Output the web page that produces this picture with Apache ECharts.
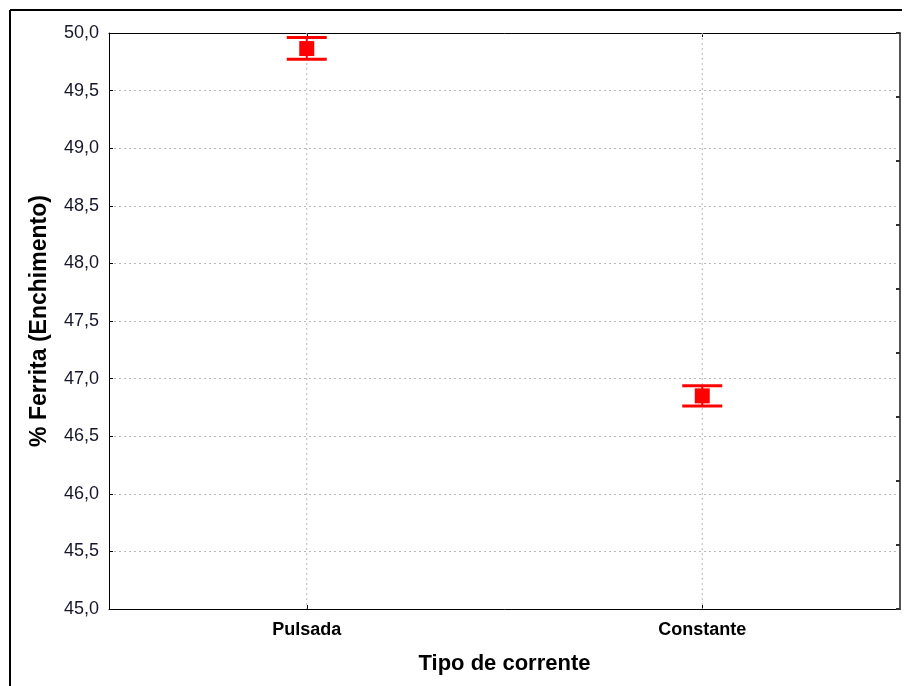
<!DOCTYPE html>
<html>
<head>
<meta charset="utf-8">
<script src="https://cdn.jsdelivr.net/npm/echarts@6/dist/echarts.min.js"></script>
<style>
  html, body { margin: 0; padding: 0; background: #fff; }
  #chart { width: 907px; height: 686px; }
</style>
</head>
<body>
<div id="chart"></div>
<script>
// Current type categories
const categories = ['Pulsada', 'Constante'];
// Mean ferrite percentage and the error-bar limits
const means = [49.865, 46.85];
const lowerLimits = [49.772, 46.762];
const upperLimits = [49.96, 46.938];

const barData = categories.map((c, i) => [i, means[i], lowerLimits[i], upperLimits[i]]);
const RED = '#ff0000';
const FONT = 'Liberation Sans, Arial, sans-serif';

function renderErrorBar(params, api) {
  const idx = api.value(0);
  const mid = api.coord([idx, api.value(1)]);
  const lo = api.coord([idx, api.value(2)]);
  const hi = api.coord([idx, api.value(3)]);
  const capHalf = 20;
  const sq = 15;
  return {
    type: 'group',
    children: [
      { type: 'line', shape: { x1: mid[0], y1: hi[1], x2: mid[0], y2: lo[1] },
        style: { stroke: RED, lineWidth: 2 } },
      { type: 'line', shape: { x1: mid[0] - capHalf, y1: hi[1], x2: mid[0] + capHalf, y2: hi[1] },
        style: { stroke: RED, lineWidth: 3 } },
      { type: 'line', shape: { x1: mid[0] - capHalf, y1: lo[1], x2: mid[0] + capHalf, y2: lo[1] },
        style: { stroke: RED, lineWidth: 3 } },
      { type: 'rect', shape: { x: mid[0] - sq / 2, y: mid[1] - sq / 2, width: sq, height: sq },
        style: { fill: RED } }
    ]
  };
}

const dotted = { show: true, lineStyle: { color: '#b8b8b8', type: [2, 3], width: 1 } };

const chart = echarts.init(document.getElementById('chart'), null, { renderer: 'canvas' });
chart.setOption({
  animation: false,
  backgroundColor: '#fff',
  grid: { left: 109, top: 33, right: 7, bottom: 77, containLabel: false },
  xAxis: [
    {
      type: 'category', data: categories, position: 'bottom',
      axisLine: { show: true, lineStyle: { color: '#000', width: 1 } },
      axisTick: { show: true, inside: true, alignWithLabel: true, length: 4, lineStyle: { color: '#000' } },
      axisLabel: { color: '#000', fontFamily: FONT, fontWeight: 'bold', fontSize: 18, margin: 12 },
      splitLine: { show: false },
      name: 'Tipo de corrente', nameLocation: 'middle', nameGap: 44,
      nameTextStyle: { color: '#000', fontFamily: FONT, fontWeight: 'bold', fontSize: 22 }
    },
    {
      type: 'category', data: categories, position: 'top',
      axisLine: { show: true, lineStyle: { color: '#000', width: 1 } },
      axisTick: { show: true, inside: true, alignWithLabel: true, length: 4, lineStyle: { color: '#000' } },
      axisLabel: { show: false },
      splitLine: { show: false }
    }
  ],
  yAxis: [
    {
      type: 'value', min: 45, max: 50, interval: 0.5, position: 'left',
      axisLine: { show: true, lineStyle: { color: '#000', width: 1 } },
      axisTick: { show: true, inside: true, length: 4, lineStyle: { color: '#000' } },
      axisLabel: {
        color: '#16162a', fontFamily: FONT, fontSize: 18, margin: 10,
        formatter: v => v.toFixed(1).replace('.', ',')
      },
      splitLine: dotted,
      name: '% Ferrita (Enchimento)', nameLocation: 'middle', nameGap: 58,
      nameTextStyle: { color: '#000', fontFamily: FONT, fontWeight: 'bold', fontSize: 23 }
    },
    {
      type: 'value', min: 0, max: 9, interval: 1, position: 'right',
      axisLine: { show: true, lineStyle: { color: '#555', width: 2 } },
      axisTick: { show: true, inside: true, length: 4, lineStyle: { color: '#333', width: 2 } },
      axisLabel: { show: false },
      splitLine: { show: false }
    }
  ],
  graphic: [
    { type: 'line', shape: { x1: 10, y1: 10, x2: 902, y2: 10 }, style: { stroke: '#000', lineWidth: 2 }, z: 10 },
    { type: 'line', shape: { x1: 10, y1: 10, x2: 10, y2: 686 }, style: { stroke: '#000', lineWidth: 2 }, z: 10 }
  ],
  series: [
    {
      // vertical dotted guides at each category
      type: 'custom', xAxisIndex: 0, yAxisIndex: 0, silent: true, z: 1,
      data: categories.map((c, i) => [i]),
      renderItem: (params, api) => {
        const top = api.coord([api.value(0), 50]);
        const bot = api.coord([api.value(0), 45]);
        return { type: 'line', shape: { x1: top[0], y1: top[1], x2: bot[0], y2: bot[1] },
          style: { stroke: '#b8b8b8', lineWidth: 1, lineDash: [2, 3] } };
      }
    },
    {
      type: 'custom', xAxisIndex: 0, yAxisIndex: 0, z: 5,
      data: barData,
      encode: { x: 0, y: [1, 2, 3] },
      renderItem: renderErrorBar
    }
  ]
});
</script>
</body>
</html>
